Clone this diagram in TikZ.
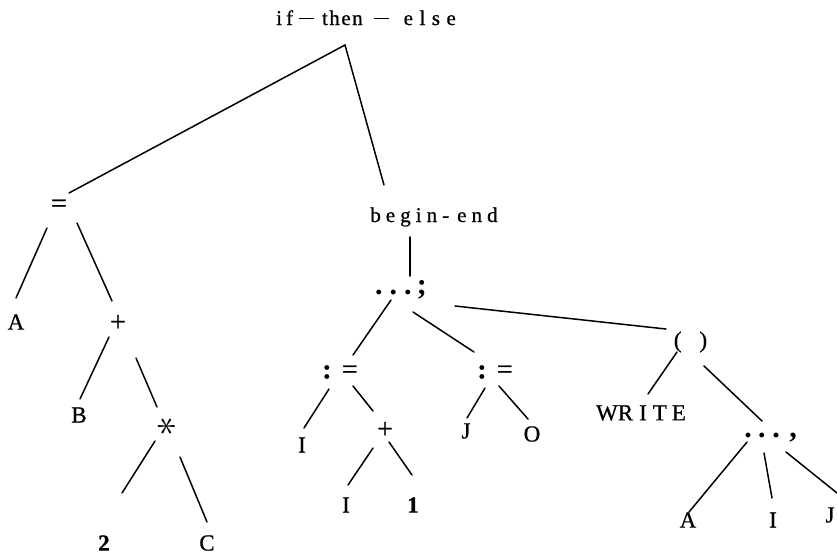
\documentclass[tikz,border=0pt]{standalone}
\usepackage{fontspec}
\setmainfont{Liberation Serif}
\usepackage{graphicx}
\newcommand{\bardash}{\rule[6pt]{15pt}{1.2pt}}
\begin{document}
\begin{tikzpicture}[x=1pt,y=-1pt,
  lbl/.style={font=\fontsize{23}{26}\selectfont\addfontfeature{FakeBold=0.8}, inner sep=0pt, anchor=center},
  sym/.style={font=\fontsize{28}{30}\selectfont\addfontfeature{FakeBold=0.8}, inner sep=0pt, anchor=center},
  dots/.style={font=\fontsize{30}{32}\selectfont\bfseries, inner sep=0pt, anchor=base},
  wide/.style={font=\fontsize{21}{24}\selectfont\addfontfeature{LetterSpace=#1,FakeBold=0.8}, inner sep=0pt, anchor=base},
  edge/.style={line width=1.5pt, line cap=round}]
\useasboundingbox[fill=white] (0,0) rectangle (837,558);

% ---- labels ----
\node[font=\fontsize{21}{24}\selectfont\addfontfeature{FakeBold=0.8}, inner sep=0pt, anchor=base west] (root) at (276,25)
  {i\hspace{4pt}f\hspace{6pt}\bardash\hspace{8pt}t\hspace{1.5pt}h\hspace{1.5pt}e\hspace{1.5pt}n\hspace{11pt}\bardash\hspace{15pt}e\hspace{6.5pt}l\hspace{6.5pt}s\hspace{6.5pt}e};
\node[sym] (eq) at (59,206) {=};
\node[lbl] (a1) at (16,322) {A};
\node[sym] (plus1) at (118,323) {+};
\node[lbl] (b) at (79,415) {B};
\node[inner sep=0pt, rotate=90] (star) at (167,426) {\scalebox{4}{$\ast$}};
\node[lbl] (two) at (104,543) {\textbf{2}};
\node[lbl] (c) at (207,543) {C};

\node[wide=24] (be) at (434,222) {begin-\hspace{8pt}end};
\node[dots] (seq) at (401,294) {.\hspace{7pt}.\hspace{7pt}.\hspace{5.2pt};};
\node[sym] (asg1) at (340,372) {\textbf{:}\hspace{10.3pt}=};
\node[sym] (asg2) at (495,372) {\textbf{:}\hspace{10.3pt}=};
\node[lbl] (i1) at (302,445) {I};
\node[sym] (plus2) at (385,430) {+};
\node[lbl] (j1) at (466,431) {J};
\node[lbl] (o1) at (532,434) {O};
\node[lbl] (i2) at (346,505) {I};
\node[lbl] (one) at (413,505) {\textbf{1}};

\node[lbl] (par) at (690.5,342) {(\hspace{18pt})};
\node[lbl] (write) at (641,413) {WR\hspace{6pt}I\hspace{6pt}T\hspace{5pt}E};
\node[dots] (seq2) at (770.5,437) {.\hspace{6.5pt}.\hspace{6.5pt}.\hspace{9.5pt},};
\node[lbl] (a2) at (688,520) {A};
\node[lbl] (i3) at (773,520) {I};
\node[lbl] (j2) at (830,515) {J};

% ---- connector ends ----
\coordinate (root-s) at (345,45);
\coordinate (eq-n) at (69,193);
\coordinate (be-n) at (384,185);
\coordinate (eq-sw) at (47,228);   \coordinate (a1-n) at (16,298);
\coordinate (eq-se) at (77,223);   \coordinate (plus1-n) at (112,301);
\coordinate (plus1-sw) at (109,337); \coordinate (b-n) at (80,399);
\coordinate (plus1-se) at (136,358); \coordinate (star-n) at (157,407);
\coordinate (star-sw) at (155,441); \coordinate (two-n) at (122,493);
\coordinate (star-se) at (180,457); \coordinate (c-n) at (207,522);
\coordinate (be-s) at (410,237);   \coordinate (seq-n) at (410,276);
\coordinate (seq-sw) at (391,300); \coordinate (asg1-n) at (353,355);
\coordinate (seq-s) at (413,312);  \coordinate (asg2-n) at (474,352);
\coordinate (seq-e) at (455,306);  \coordinate (par-w) at (666,329);
\coordinate (asg1-sw) at (329,389); \coordinate (i1-n) at (304,428);
\coordinate (asg1-se) at (353,386); \coordinate (plus2-n) at (373,411);
\coordinate (plus2-sw) at (373,448); \coordinate (i2-n) at (348,485);
\coordinate (plus2-se) at (389,442); \coordinate (one-n) at (412,475);
\coordinate (asg2-sw) at (485,388); \coordinate (j1-n) at (467,418);
\coordinate (asg2-se) at (499,386); \coordinate (o1-n) at (528,419);
\coordinate (par-sw) at (677,352);  \coordinate (write-n) at (648,394);
\coordinate (par-se) at (704,366);  \coordinate (seq2-n) at (762,421);
\coordinate (seq2-sw) at (747,442); \coordinate (a2-n) at (689,512);
\coordinate (seq2-s) at (764,453);  \coordinate (i3-n) at (772,498);
\coordinate (seq2-se) at (786,452); \coordinate (j2-n) at (837,493);

% ---- connectors ----
\draw[edge] (eq-n) -- (root-s) -- (be-n);
\draw[edge] (eq-sw) -- (a1-n);
\draw[edge] (eq-se) -- (plus1-n);
\draw[edge] (plus1-sw) -- (b-n);
\draw[edge] (plus1-se) -- (star-n);
\draw[edge] (star-sw) -- (two-n);
\draw[edge] (star-se) -- (c-n);
\draw[edge] (be-s) -- (seq-n);
\draw[edge] (seq-sw) -- (asg1-n);
\draw[edge] (seq-s) -- (asg2-n);
\draw[edge] (seq-e) -- (par-w);
\draw[edge] (asg1-sw) -- (i1-n);
\draw[edge] (asg1-se) -- (plus2-n);
\draw[edge] (plus2-sw) -- (i2-n);
\draw[edge] (plus2-se) -- (one-n);
\draw[edge] (asg2-sw) -- (j1-n);
\draw[edge] (asg2-se) -- (o1-n);
\draw[edge] (par-sw) -- (write-n);
\draw[edge] (par-se) -- (seq2-n);
\draw[edge] (seq2-sw) -- (a2-n);
\draw[edge] (seq2-s) -- (i3-n);
\draw[edge] (seq2-se) -- (j2-n);
\end{tikzpicture}
\end{document}
